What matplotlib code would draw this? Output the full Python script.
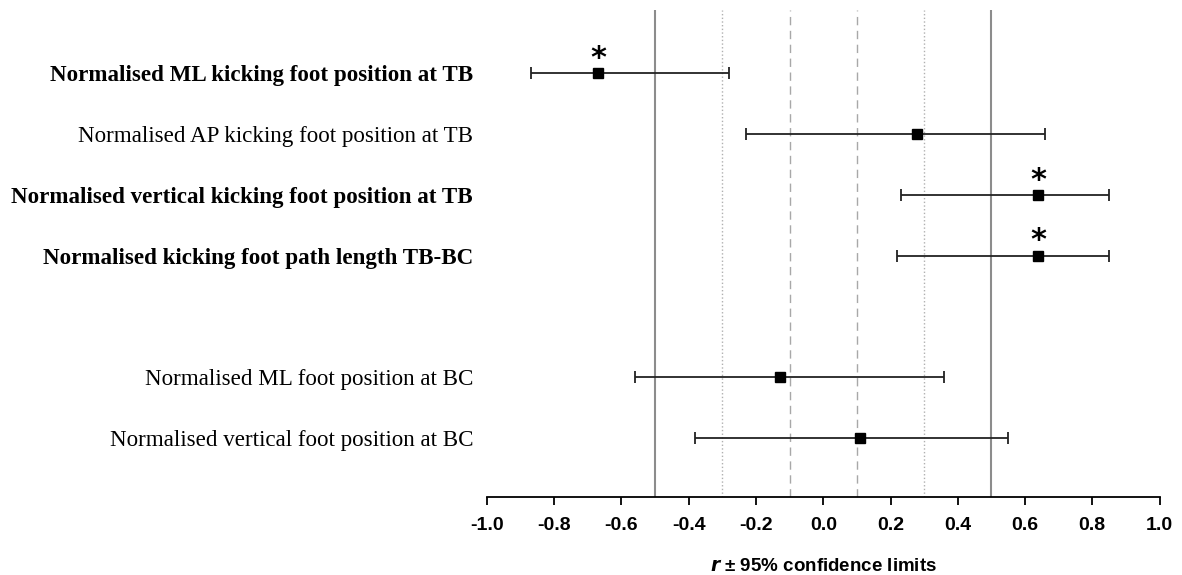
import matplotlib.pyplot as plt

labels = ['Normalised ML kicking foot position at TB',
          'Normalised AP kicking foot position at TB',
          'Normalised vertical kicking foot position at TB',
          'Normalised kicking foot path length TB-BC',
          'Normalised ML foot position at BC',
          'Normalised vertical foot position at BC']
rows = [0, 1, 2, 3, 5, 6]
r = [-0.67, 0.28, 0.64, 0.64, -0.13, 0.11]
lower = [-0.87, -0.23, 0.23, 0.22, -0.56, -0.38]
upper = [-0.28, 0.66, 0.85, 0.85, 0.36, 0.55]
bold = [True, False, True, True, False, False]
signif = [True, False, True, True, False, False]

fig = plt.figure(figsize=(11.82, 5.75), dpi=100)
ax = fig.add_axes([0.412, 0.1357, 0.569, 0.847])

# reference lines for effect size thresholds
for x in (-0.5, 0.5):
    ax.axvline(x, color='#8c8c8c', lw=1.5, zorder=0)
for x in (-0.3, 0.3):
    ax.axvline(x, color='#b0b0b0', lw=1, ls=':', zorder=0)
for x in (-0.1, 0.1):
    ax.axvline(x, color='#a8a8a8', lw=1, ls=(0, (6, 4)), zorder=0)

for i in range(len(rows)):
    ax.errorbar(r[i], rows[i], xerr=[[r[i] - lower[i]], [upper[i] - r[i]]],
                fmt='s', color='black', ecolor='#222222', elinewidth=1.3,
                capsize=4, capthick=1.3, markersize=7)
    if signif[i]:
        ax.text(r[i], rows[i] - 0.24, '*', ha='center', va='center',
                fontsize=22, fontweight='bold', family='DejaVu Sans')

ax.set_xlim(-1.0, 1.0)
ax.set_ylim(6.97, -1.04)
ax.set_xticks([-1.0 + 0.2 * k for k in range(11)])
ax.set_xticklabels(['%.1f' % (-1.0 + 0.2 * k) for k in range(11)],
                   fontsize=14, fontweight='bold', family='Liberation Sans')
ax.tick_params(axis='x', direction='out', length=6, width=1.3, pad=8.5)

ax.set_yticks(rows)
ax.set_yticklabels(labels)
for t, b in zip(ax.get_yticklabels(), bold):
    t.set_family('Liberation Serif')
    t.set_fontsize(16.6)
    if b:
        t.set_fontweight('bold')
ax.tick_params(axis='y', length=0, pad=10)

for s in ('top', 'right', 'left'):
    ax.spines[s].set_visible(False)
ax.spines['bottom'].set_linewidth(1.3)

ax.set_xlabel(r'$\bfit{r}$ ± 95% confidence limits', fontsize=13.5,
              fontweight='bold', family='Liberation Sans', labelpad=17)

fig.savefig('out.png', dpi=100)
